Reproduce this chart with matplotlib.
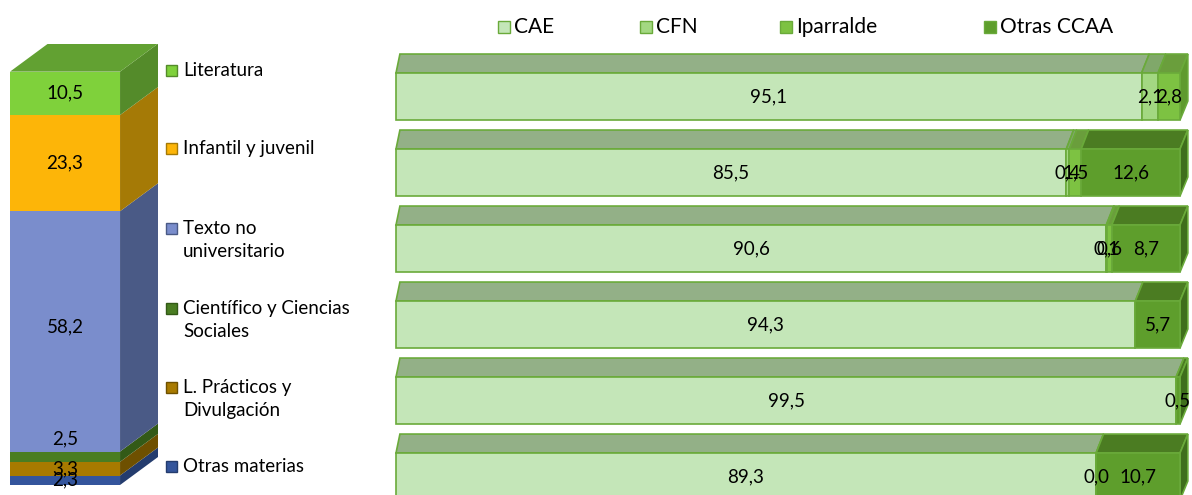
import matplotlib.pyplot as plt
import numpy as np
from matplotlib.patches import Polygon, Rectangle

plt.rcParams['font.family'] = ['Lato', 'DejaVu Sans']

# left column: share by subject (bottom to top)
subjects = ["Otras materias", "L. Prácticos y\nDivulgación", "Científico y Ciencias\nSociales",
            "Texto no\nuniversitario", "Infantil y juvenil", "Literatura"]
subject_share = [2.3, 3.3, 2.5, 58.2, 23.3, 10.5]

# right bars: share by place of publication, one row per subject (top to bottom)
regions = ["CAE", "CFN", "Iparralde", "Otras CCAA"]
cae = [95.1, 85.5, 90.6, 94.3, 99.5, 89.3]
cfn = [2.1, 0.4, 0.1, None, None, 0.0]
iparralde = [2.8, 1.5, 0.6, None, None, None]
otras_ccaa = [None, 12.6, 8.7, 5.7, 0.5, 10.7]

# colours: (front, side, top)
subj_colors = [("#34559c", "#243c6e", "#2c4883"),
               ("#a87a00", "#6e5000", "#8a6400"),
               ("#4a7d22", "#335a17", "#3e6b1c"),
               ("#7a8dcc", "#4a5a86", "#5f70a8"),
               ("#fdb508", "#a57a06", "#d09506"),
               ("#7fd13b", "#548b2a", "#62a132")]
reg_colors = [("#c4e6b8", "#a9cf9a", "#93b087"),
              ("#a3d882", "#86bd66", "#80a86a"),
              ("#7dc242", "#5f9a2e", "#6a9e3c"),
              ("#5e9e2c", "#3f6e1c", "#4b7c22")]
edge = "#6aaa3a"
fs_val = 13.5
fs_leg = 13.5
fs_top = 15

fig = plt.figure(figsize=(11.92, 4.95), dpi=100)
W, H = 1192, 495

# ---------- left 3D stacked column ----------
axl = fig.add_axes([10 / W, 10 / H, 148 / W, 441 / H])
axl.set_xlim(0, 1.345)
axl.set_ylim(0, 106.8)
axl.axis('off')
dxl, dyl = 0.345, 6.78
label_nudge = [0, 0, 4.4, 1.0, 0, 0]
bottom = 0
for i, v in enumerate(subject_share):
    front, side, top = subj_colors[i]
    axl.bar(0, v, width=1, bottom=bottom, align='edge', color=front, zorder=2)
    axl.add_patch(Polygon([(1, bottom), (1 + dxl, bottom + dyl), (1 + dxl, bottom + v + dyl), (1, bottom + v)],
                          closed=True, facecolor=side, edgecolor='none', zorder=1))
    if i == len(subject_share) - 1:
        axl.add_patch(Polygon([(0, bottom + v), (dxl, bottom + v + dyl), (1 + dxl, bottom + v + dyl), (1, bottom + v)],
                              closed=True, facecolor=top, edgecolor='none', zorder=1))
    axl.text(0.5, bottom + v / 2 + label_nudge[i], f"{v:.1f}".replace('.', ','),
             ha='center', va='center', fontsize=fs_val, zorder=5, clip_on=False)
    bottom += v

# left legend
leg_y = [466, 387, 308, 228, 148, 70]
for i, lab in enumerate(subjects):
    y = leg_y[i]
    fig.patches.append(Rectangle((166 / W, 1 - (y + 6) / H), 11 / W, 11 / H, transform=fig.transFigure,
                                 facecolor=subj_colors[i][0], edgecolor=subj_colors[i][1], lw=1))
    fig.text(183 / W, 1 - (y - 8) / H, lab, ha='left', va='top', fontsize=fs_leg, linespacing=1.4)

# ---------- right 3D 100% bars ----------
axr = fig.add_axes([390 / W, 0, 802 / W, 445 / H])
axr.set_xlim(-0.765, 101.53)
axr.set_ylim(5.243, -0.612)
axr.axis('off')
h, dy = 0.618, 0.25
series = [cae, cfn, iparralde, otras_ccaa]


def dx_at(x):
    return 0.5 + 0.5 * x / 100


for r in range(len(cae)):
    left = 0.0
    top_y, bot_y = r - h / 2, r + h / 2
    last = None
    for s, vals in enumerate(series):
        v = vals[r]
        if v is None:
            continue
        front, side, topc = reg_colors[s]
        axr.barh(r, v, height=h, left=left, color=front, edgecolor=edge, lw=1.2, zorder=3)
        x0, x1 = left, left + v
        axr.add_patch(Polygon([(x0, top_y), (x0 + dx_at(x0), top_y - dy), (x1 + dx_at(x1), top_y - dy), (x1, top_y)],
                              closed=True, facecolor=topc, edgecolor=edge, lw=1.2, zorder=2))
        axr.text(left + v / 2, r, f"{v:.1f}".replace('.', ','), ha='center', va='center',
                 fontsize=fs_val, zorder=6)
        left = x1
        last = s
    x1 = left
    axr.add_patch(Polygon([(x1, top_y), (x1 + dx_at(x1), top_y - dy), (x1 + dx_at(x1), bot_y - dy), (x1, bot_y)],
                          closed=True, facecolor=reg_colors[last][1], edgecolor=edge, lw=1.2, zorder=2))

# top legend
leg_x = [498, 640, 780, 984]
for s, lab in enumerate(regions):
    x = leg_x[s]
    fig.patches.append(Rectangle((x / W, 1 - 33 / H), 12 / W, 12 / H, transform=fig.transFigure,
                                 facecolor=reg_colors[s][0], edgecolor=edge, lw=1))
    fig.text((x + 16) / W, 1 - 27 / H, lab, ha='left', va='center', fontsize=fs_top)

fig.savefig("out.png", dpi=100)
